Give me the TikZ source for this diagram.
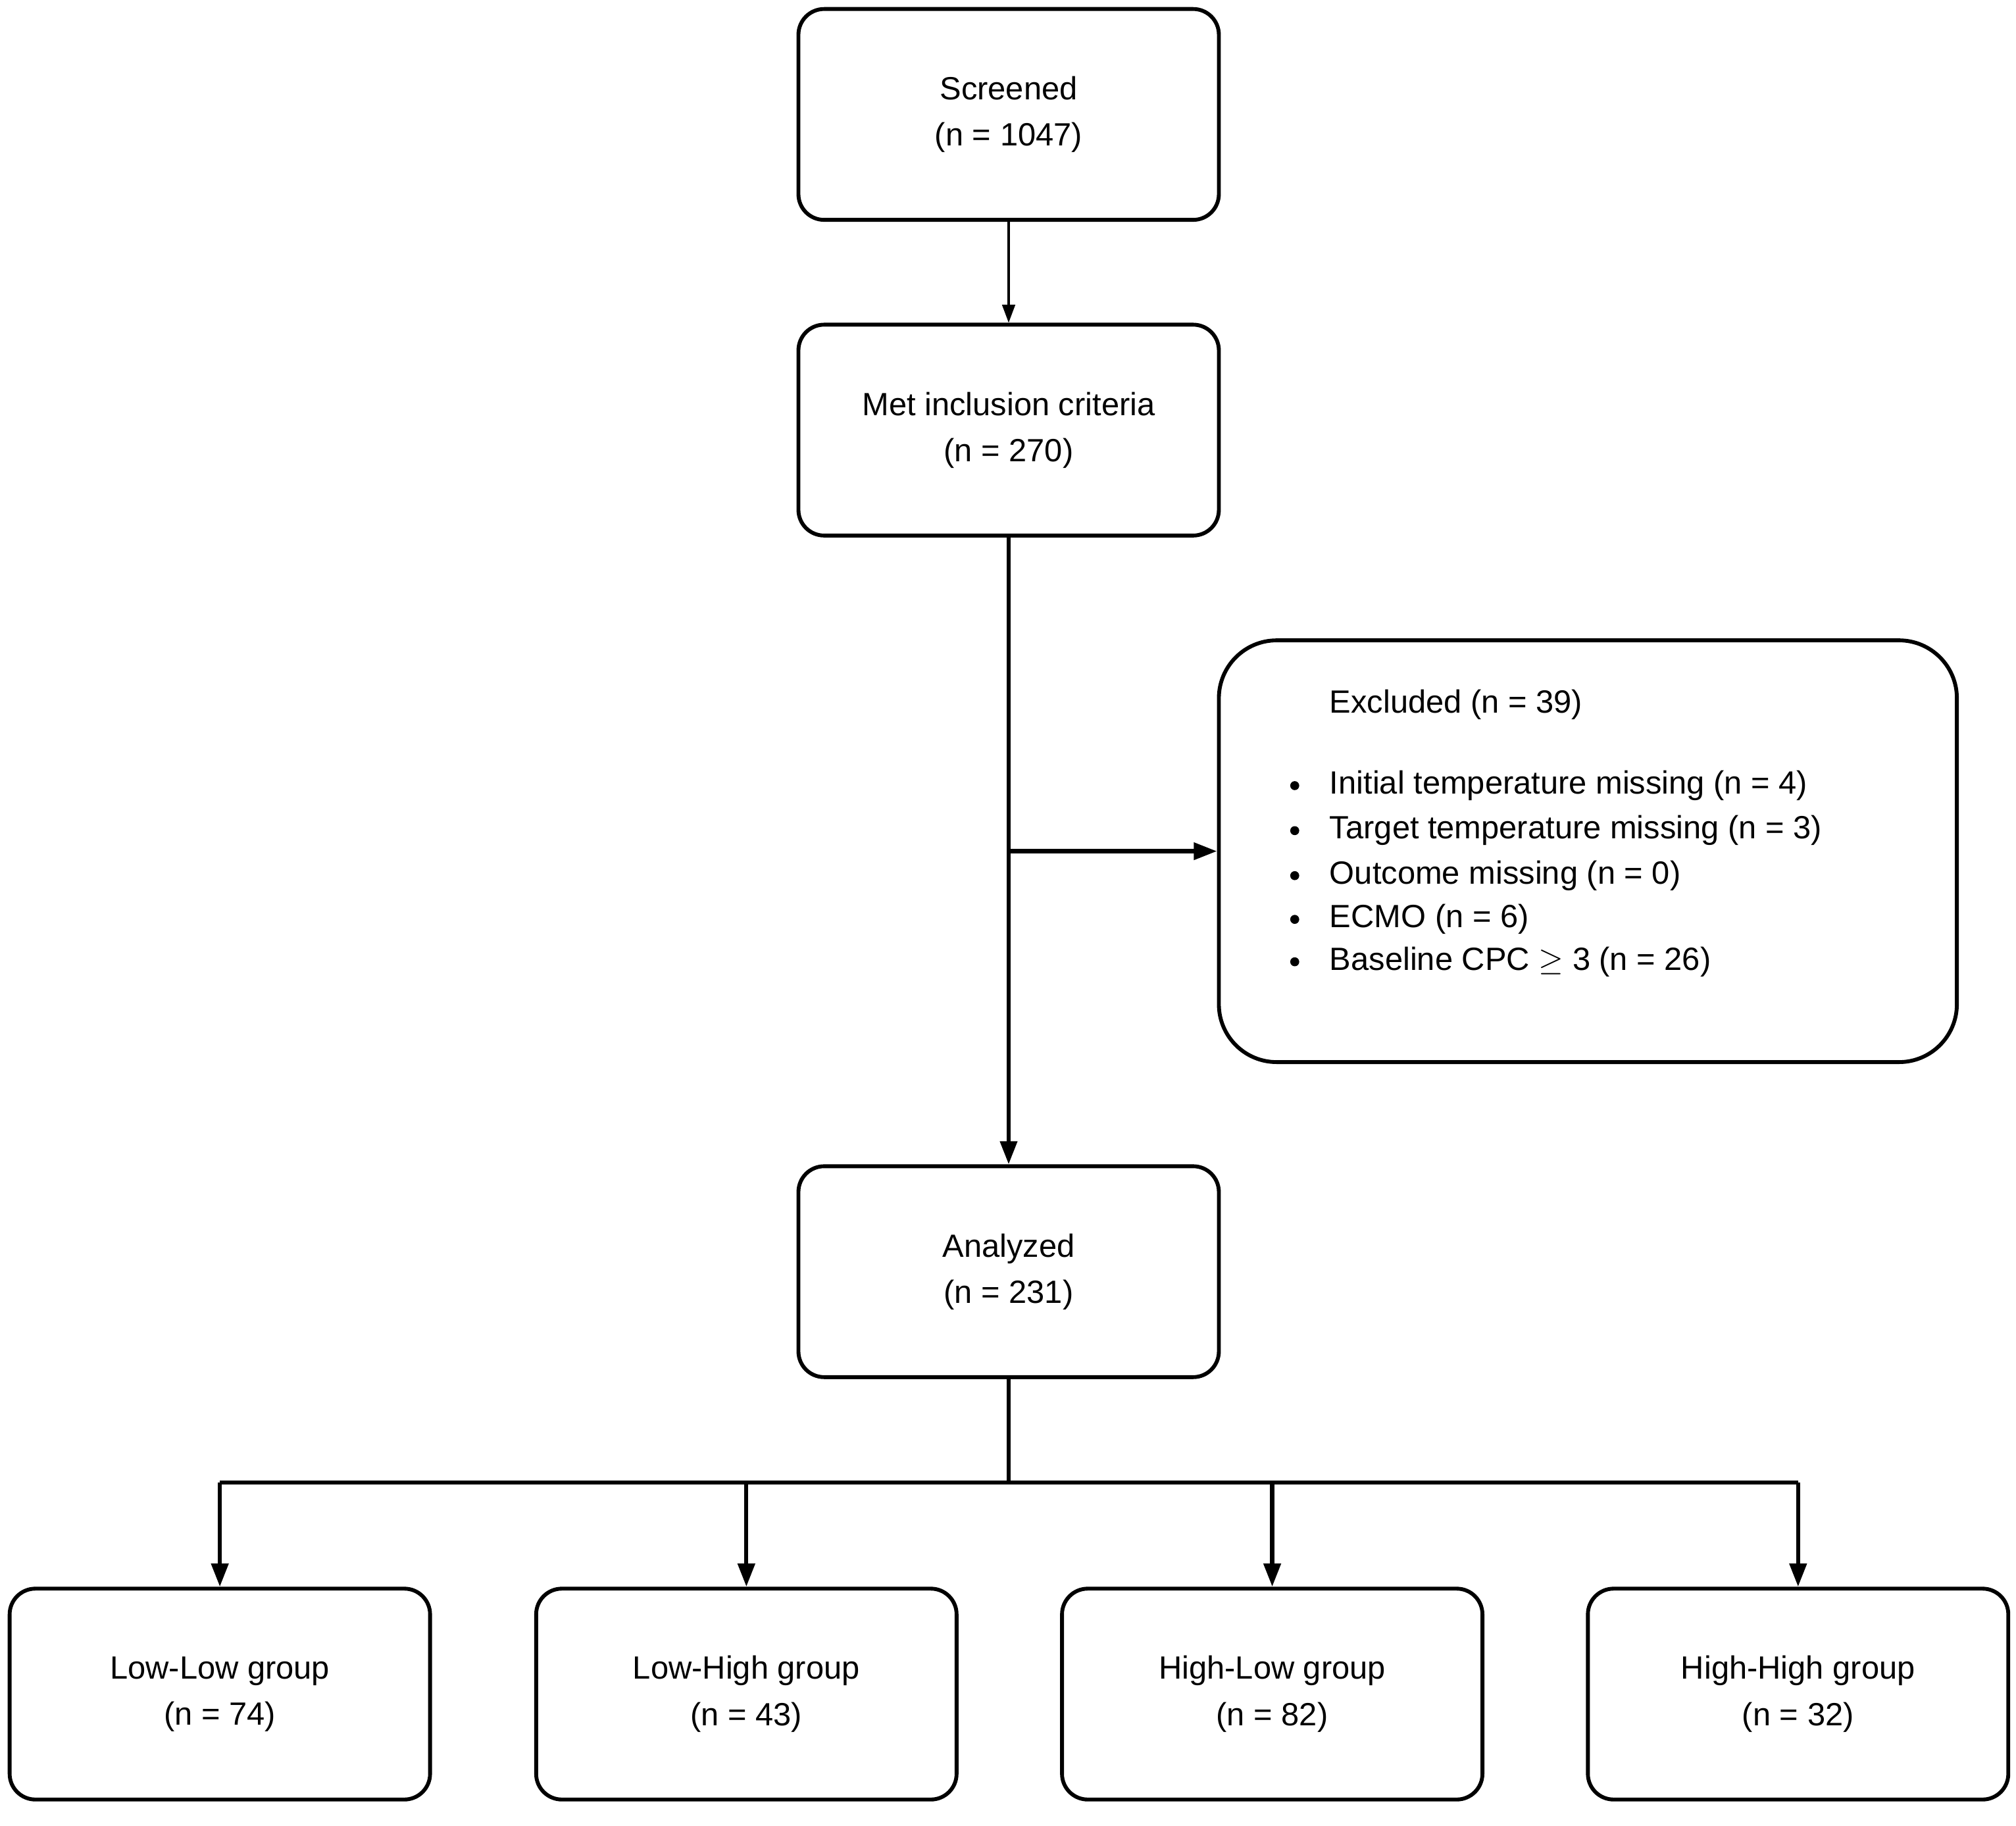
\documentclass[tikz,border=0pt]{standalone}
\usepackage{fontspec}
\setmainfont{Liberation Sans}
\usetikzlibrary{arrows.meta}
\begin{document}
\begin{tikzpicture}[x=1pt,y=-1pt,
 box/.style={draw,line width=3pt,rounded corners=20pt,minimum width=327pt,minimum height=164pt,align=center,font=\fontsize{25}{36}\selectfont},
 ar/.style={line width=3.2pt,-{Triangle[length=18pt,width=13pt]}},
 txt/.style={anchor=west,font=\fontsize{25}{30}\selectfont,inner sep=0pt}]
\useasboundingbox (0,0) rectangle (1568,1420);
\node[box] (scr) at (784.5,89) {Screened\\(n = 1047)};
\node[box] (met) at (784.5,334.5) {Met inclusion criteria\\(n = 270)};
\node[box,minimum width=574pt,minimum height=328pt,rounded corners=45pt] (exc) at (1235,662) {};
\node[box] (ana) at (784.5,989) {Analyzed\\(n = 231)};
\node[box] (g1) at (171,1317.5) {Low-Low group\\(n = 74)};
\node[box] (g2) at (580.5,1317.5) {Low-High group\\(n = 43)};
\node[box] (g3) at (989.5,1317.5) {High-Low group\\(n = 82)};
\node[box] (g4) at (1398.5,1317.5) {High-High group\\(n = 32)};
\node[txt] (e0) at (1034,548) {Excluded (n = 39)};
\node[txt] (e1) at (1034,611) {Initial temperature missing (n = 4)};
\node[txt] (e2) at (1034,646) {Target temperature missing (n = 3)};
\node[txt] (e3) at (1034,681) {Outcome missing (n = 0)};
\node[txt] (e4) at (1034,715) {ECMO (n = 6)};
\node[txt] (e5) at (1034,748) {Baseline CPC $\geq$ 3 (n = 26)};
\foreach \i in {1,...,5}{\fill ([xshift=-27pt]e\i.west) circle (3.5pt);}
\draw[line width=1.6pt,-{Triangle[length=14pt,width=10pt]}] (scr) -- (met);
\draw[ar] (met) -- (ana);
\coordinate (j) at (784.5,662);
\draw[ar] (j) -- (exc.west|-j);
\coordinate (b) at (784.5,1153);
\draw[line width=3.2pt] (ana.south) -- (b);
\draw[line width=3.2pt] (g1.north|-b) -- (g4.north|-b);
\foreach \g in {g1,g2,g3,g4}{\draw[ar] (\g.north|-b) -- (\g.north);}
\end{tikzpicture}
\end{document}
